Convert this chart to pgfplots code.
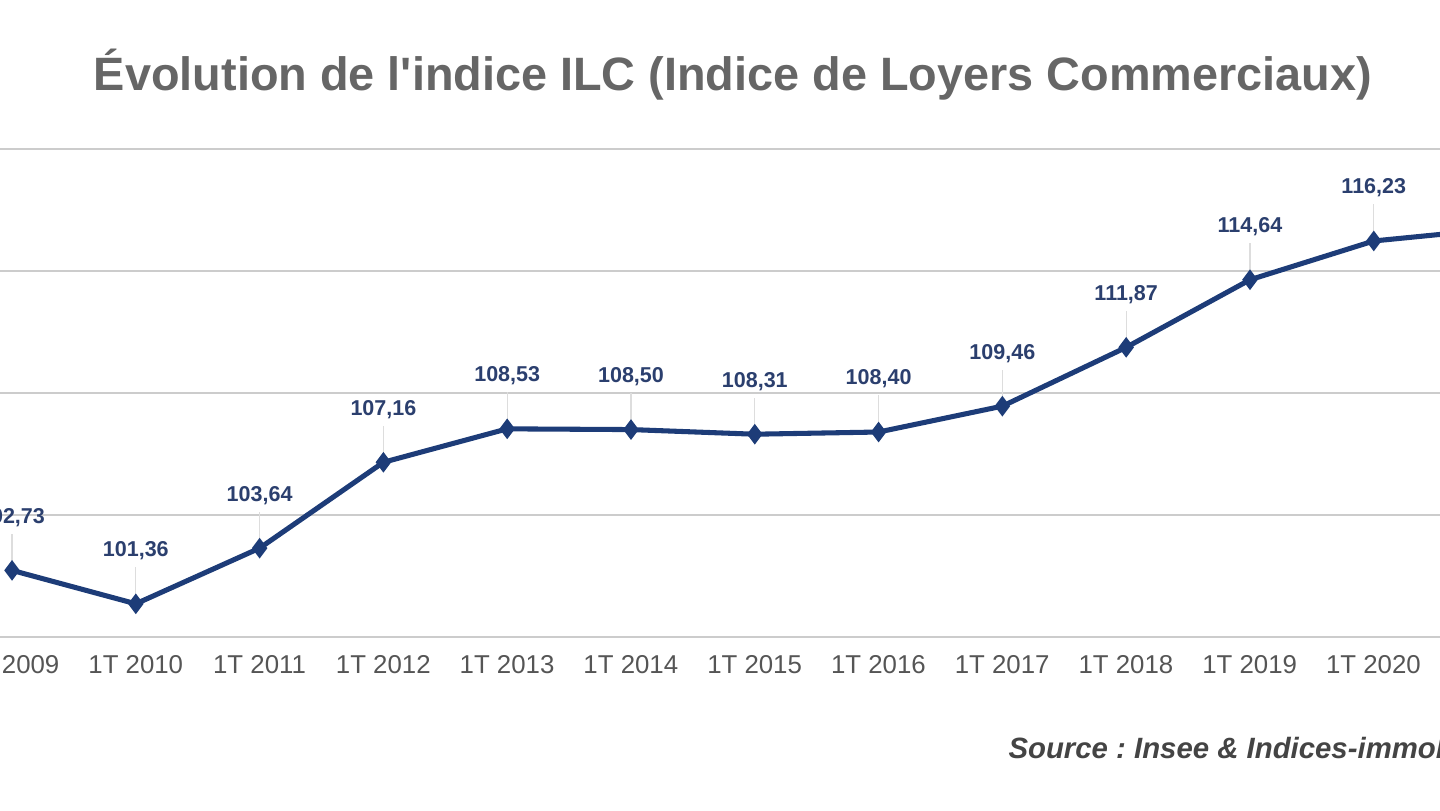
\documentclass[border=0pt]{standalone}
\usepackage{pgfplots}
\pgfplotsset{compat=1.18}
\usepackage{fontspec}
\setmainfont{Liberation Sans}
\newfontfamily\titlefont{Liberation Sans}
\definecolor{linec}{HTML}{1D3C78}
\definecolor{labc}{HTML}{2B3F6E}
\definecolor{gridc}{HTML}{CCCCCC}
\definecolor{leadc}{HTML}{DDDDDD}
\definecolor{titc}{HTML}{666666}
\definecolor{tickc}{HTML}{555555}
\definecolor{srcc}{HTML}{444444}
\frenchspacing
\begin{document}
\begin{tikzpicture}
\path[use as bounding box, clip] (0,-2.403) rectangle (20,8.847);
\begin{axis}[
  at={(0,0)}, anchor=south west,
  scale only axis, width=20cm, height=6.778cm,
  xmin=-0.097, xmax=11.535, ymin=100, ymax=120,
  axis lines=none,
  clip=false,
  xtick={0,...,12},
  ytick=\empty,
  /pgf/number format/assume math mode=true,
  /pgf/number format/.cd, fixed, fixed zerofill, precision=2, use comma,
  /pgfplots/.cd,
  nodes near coords,
  every node near coord/.append style={anchor=center, yshift=0.736cm, font=\fontsize{8.5}{10}\selectfont\bfseries, text=labc},
]
\foreach \g in {100,105,110,115,120}{
  \edef\tmp{\noexpand\draw[gridc, line width=0.8pt] (axis cs:-1,\g) -- (axis cs:13,\g);}\tmp
}
\addplot[draw=none, mark=none, nodes near coords=\empty, forget plot,
  error bars/.cd, y dir=plus, y fixed=1.5, error bar style={leadc, line width=0.5pt}, error mark=none]
  coordinates {(0,102.73) (1,101.36) (2,103.64) (3,107.16) (4,108.53) (5,108.50) (6,108.31) (7,108.40) (8,109.46) (9,111.87) (10,114.64) (11,116.23) (12,116.73)};
\addplot[linec, line width=2pt, mark=diamond*, mark size=3.6pt, mark options={fill=linec, draw=linec, line width=0.6pt}]
  coordinates {(0,102.73) (1,101.36) (2,103.64) (3,107.16) (4,108.53) (5,108.50) (6,108.31) (7,108.40) (8,109.46) (9,111.87) (10,114.64) (11,116.23) (12,116.73)};
\end{axis}
\foreach \i/\lab in {0/2009,1/2010,2/2011,3/2012,4/2013,5/2014,6/2015,7/2016,8/2017,9/2018,10/2019,11/2020}{
  \node[text=tickc, font=\fontsize{10.2}{12}\selectfont] at ({(12+123.8*\i)*0.013889}, -0.389) {1T \lab};
}
\node[text=titc, font=\fontsize{18.5}{22}\selectfont\titlefont\bfseries] at (10.18,7.806) {Évolution de l'indice ILC (Indice de Loyers Commerciaux)};
\node[anchor=west, inner sep=0pt, text=srcc, font=\fontsize{11.6}{14}\selectfont\bfseries\itshape] at (14.0,-1.542) {Source : Insee \& Indices-immobilier.fr};
\end{tikzpicture}
\end{document}
